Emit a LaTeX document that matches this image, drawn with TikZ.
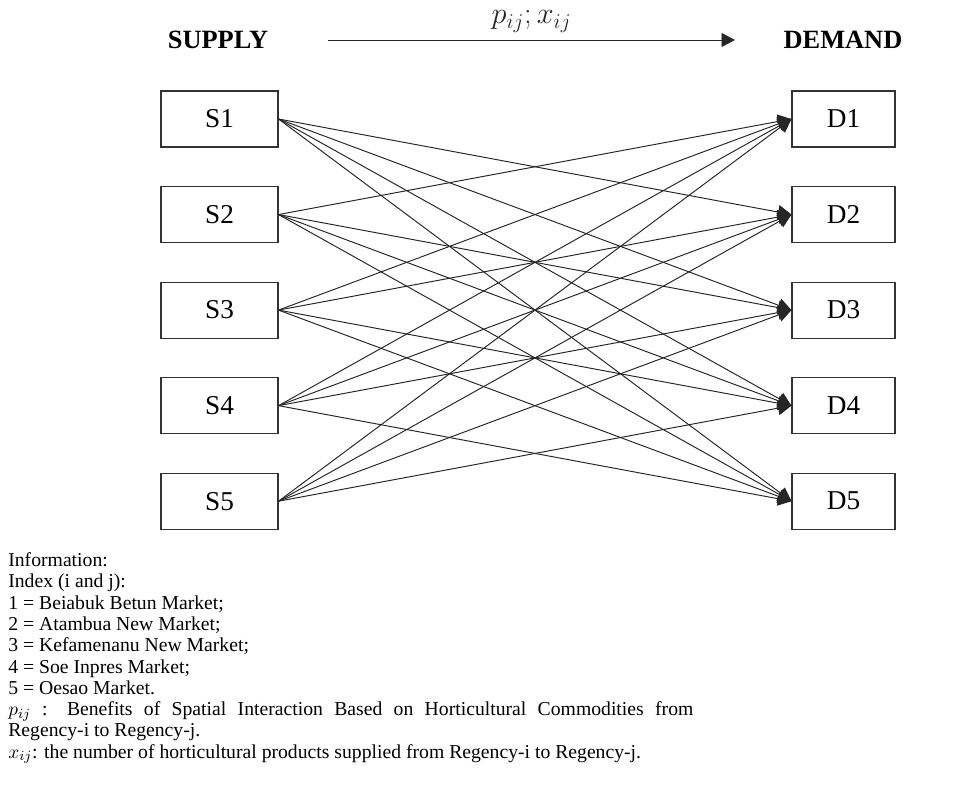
\documentclass[tikz,border=0pt]{standalone}
\usepackage{fontspec}
\setmainfont{Liberation Serif}
\usepackage{tikz}
\usetikzlibrary{arrows.meta, positioning}

\begin{document}
\begin{tikzpicture}[
    node distance=0.77cm,
    box/.style={rectangle, draw=black!80, line width=0.6pt, minimum height=1.12cm, align=center, font=\fontsize{15.5}{18}\selectfont},
    sbox/.style={box, minimum width=2.34cm},
    dbox/.style={box, minimum width=2.06cm},
    head/.style={font=\fontsize{15}{18}\selectfont\bfseries},
    arrow/.style={-{Triangle[length=0.27cm, width=0.28cm]}, line width=0.55pt, black!85}
]
\useasboundingbox (0,0) rectangle (19.3,-15.86);

\node[head] (supply) at (4.36,-0.8) {SUPPLY};
\node[head] (demand) at (16.86,-0.8) {DEMAND};
\coordinate (flow_start) at (6.56,-0.8);
\coordinate (flow_end) at (14.7,-0.8);
\draw[arrow] (flow_start) -- node[above=0.03cm, font=\fontsize{16.5}{18}\selectfont] (flow_label) {$p_{ij}; x_{ij}$} (flow_end);

\node[sbox] (s1) at (4.39,-2.38) {S1};
\node[sbox, below=of s1] (s2) {S2};
\node[sbox, below=of s2] (s3) {S3};
\node[sbox, below=of s3] (s4) {S4};
\node[sbox, below=of s4] (s5) {S5};

\node[dbox] (d1) at (16.87,-2.38) {D1};
\node[dbox, below=of d1] (d2) {D2};
\node[dbox, below=of d2] (d3) {D3};
\node[dbox, below=of d3] (d4) {D4};
\node[dbox, below=of d4] (d5) {D5};

% Flows from each supply to the other markets
\draw[arrow] (s1.east) -- (d2.west);
\draw[arrow] (s1.east) -- (d3.west);
\draw[arrow] (s1.east) -- (d4.west);
\draw[arrow] (s1.east) -- (d5.west);

\draw[arrow] (s2.east) -- (d1.west);
\draw[arrow] (s2.east) -- (d3.west);
\draw[arrow] (s2.east) -- (d4.west);
\draw[arrow] (s2.east) -- (d5.west);

\draw[arrow] (s3.east) -- (d1.west);
\draw[arrow] (s3.east) -- (d2.west);
\draw[arrow] (s3.east) -- (d4.west);
\draw[arrow] (s3.east) -- (d5.west);

\draw[arrow] (s4.east) -- (d1.west);
\draw[arrow] (s4.east) -- (d2.west);
\draw[arrow] (s4.east) -- (d3.west);
\draw[arrow] (s4.east) -- (d5.west);

\draw[arrow] (s5.east) -- (d1.west);
\draw[arrow] (s5.east) -- (d2.west);
\draw[arrow] (s5.east) -- (d3.west);
\draw[arrow] (s5.east) -- (d4.west);

% Legend
\node[anchor=north west, inner sep=0pt, text width=13.7cm, align=justify,
      font=\fontsize{11.2}{12.1}\selectfont] (info) at (0.16,-11.05) {%
Information:\\
Index (i and j):\\
1 = Beiabuk Betun Market;\\
2 = Atambua New Market;\\
3 = Kefamenanu New Market;\\
4 = Soe Inpres Market;\\
5 = Oesao Market.\\
$p_{ij}$ : Benefits of Spatial Interaction Based on Horticultural Commodities from\linebreak
Regency-i to Regency-j.\\
$x_{ij}$: the number of horticultural products supplied from Regency-i to Regency-j.};

\end{tikzpicture}
\end{document}
